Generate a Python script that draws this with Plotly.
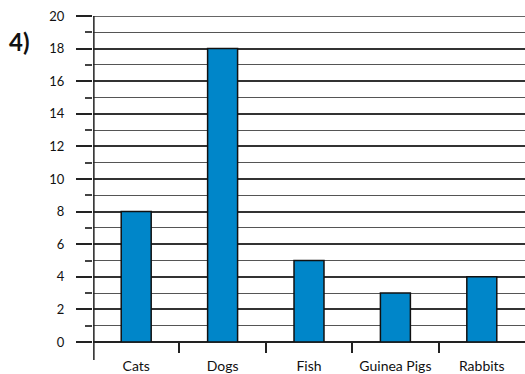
import plotly.graph_objects as go

categories = ["Cats", "Dogs", "Fish", "Guinea Pigs", "Rabbits"]
values = [8, 18, 5, 3, 4]
y_ticks = list(range(0, 21, 2))
y_max = 20

x_pos = list(range(len(categories)))
boundaries = [i + 0.5 for i in range(len(categories) - 1)]

fig = go.Figure()
fig.add_trace(go.Bar(
    x=x_pos, y=values, width=0.347,
    marker=dict(color="#0086C9", line=dict(color="#111111", width=1.5)),
    hoverinfo="skip",
))

font = "Lato"
fig.update_layout(
    width=525, height=374,
    margin=dict(l=93, r=0, t=16, b=32),
    paper_bgcolor="white", plot_bgcolor="white",
    showlegend=False,
    font=dict(family=font, color="#111111"),
    xaxis=dict(
        range=[-0.5, 4.5],
        tickmode="array", tickvals=x_pos, ticktext=categories,
        ticks="", showgrid=False, zeroline=False, showline=False,
        tickfont=dict(size=14, family=font),
        ticklabelstandoff=14,
        minor=dict(tickvals=boundaries, ticks="outside", ticklen=10,
                   tickwidth=1.5, tickcolor="#222222", showgrid=False),
    ),
    yaxis=dict(
        range=[0, y_max],
        tickmode="array", tickvals=y_ticks,
        ticks="outside", ticklen=16, tickwidth=1.5, tickcolor="#222222",
        showgrid=True, gridcolor="#333333", gridwidth=1.5,
        zeroline=True, zerolinecolor="#222222", zerolinewidth=1.5,
        showline=False,
        tickfont=dict(size=13, family=font),
        ticklabelstandoff=9,
        minor=dict(dtick=1, ticks="outside", ticklen=7, tickwidth=1.5,
                   tickcolor="#444444", showgrid=True, gridcolor="#555555",
                   gridwidth=1.2),
    ),
    shapes=[
        dict(type="line", xref="paper", yref="paper",
             x0=0.002, x1=0.002, y0=-18/326, y1=1,
             line=dict(color="#222222", width=1.5), layer="above"),
        dict(type="line", xref="paper", yref="y",
             x0=0, x1=1, y0=y_max, y1=y_max,
             line=dict(color="#333333", width=1.5), layer="below"),
    ],
    annotations=[dict(text="<b>4)</b>", xref="paper", yref="paper",
                      x=-86/432, y=1 - (42 - 16)/326,
                      xanchor="left", yanchor="middle", showarrow=False,
                      font=dict(size=24, family=font, color="#111111"))],
)
fig.write_html("out.html")
